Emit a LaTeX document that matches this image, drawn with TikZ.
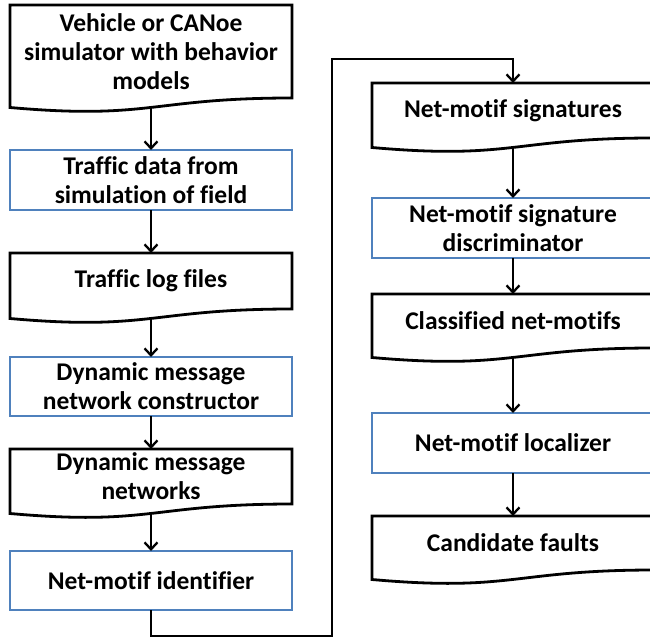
\documentclass[tikz,border=0pt]{standalone}
\usepackage{fontspec}
\setmainfont{Carlito}[Ligatures=NoCommon]
\usetikzlibrary{positioning,arrows.meta}
\definecolor{boxblue}{RGB}{79,129,189}

\begin{document}
\begin{tikzpicture}[x=1bp,y=1bp,
  box/.style={rectangle,minimum width=282bp,inner sep=0bp,outer sep=0bp,align=center,font=\fontsize{25.5bp}{29bp}\selectfont\bfseries},
  procbox/.style={box,draw=boxblue,line width=2.2bp,minimum height=59bp},
  docbox/.style={box,minimum height=55bp},
  docline/.style={line width=2.8bp,line join=miter},
  flow/.style={line width=2.3bp,-{Straight Barb[length=7bp,width=13bp]}}]
\useasboundingbox (0,0) rectangle (650,-639);
\clip (0,0) rectangle (650,-639);
% left column
\node[docbox,minimum height=93bp] (n1) at (151,-51.5) {Vehicle or CANoe\\simulator with behavior\\models};
\node[procbox,minimum height=60bp] (n2) [below=52bp of n1] {Traffic data from\\simulation of field};
\node[docbox,minimum height=56bp] (n3) [below=43bp of n2] {Traffic log files};
\node[procbox] (n4) [below=48bp of n3] {Dynamic message\\network constructor};
\node[docbox] (n5) [below=33bp of n4] {Dynamic message\\networks};
\node[procbox] (n6) [below=47bp of n5] {Net-motif identifier};
% right column
\node[docbox] (n7) at (513,-110.5) {Net-motif signatures};
\node[procbox,minimum height=60bp] (n8) [below=60bp of n7] {Net-motif signature\\discriminator};
\node[docbox,minimum height=54bp] (n9) [below=36bp of n8] {Classified net-motifs};
\node[procbox,minimum height=60bp] (n10) [below=65bp of n9] {Net-motif localizer};
\node[docbox,minimum height=54bp] (n11) [below=43bp of n10] {Candidate faults};
% document outlines
\foreach \n in {n1,n3,n5,n7,n9,n11}
  \draw[docline] (\n.north west) -- (\n.north east) -- (\n.south east)
    .. controls (\n.south) and ([yshift=-22bp]\n.south) .. ([yshift=-9.5bp]\n.south west) -- cycle;
% arrows
\foreach \a/\b in {n1/n2,n3/n4,n5/n6,n7/n8,n9/n10}
  \draw[flow] ([yshift=-9bp]\a.south) -- (\b);
\foreach \a/\b in {n2/n3,n4/n5,n8/n9,n10/n11}
  \draw[flow] (\a) -- (\b);
\coordinate (turn) at (332,-59);
\draw[flow] (n6.south) -- ++(0,-26) -| (turn) -| (n7);
\end{tikzpicture}
\end{document}
